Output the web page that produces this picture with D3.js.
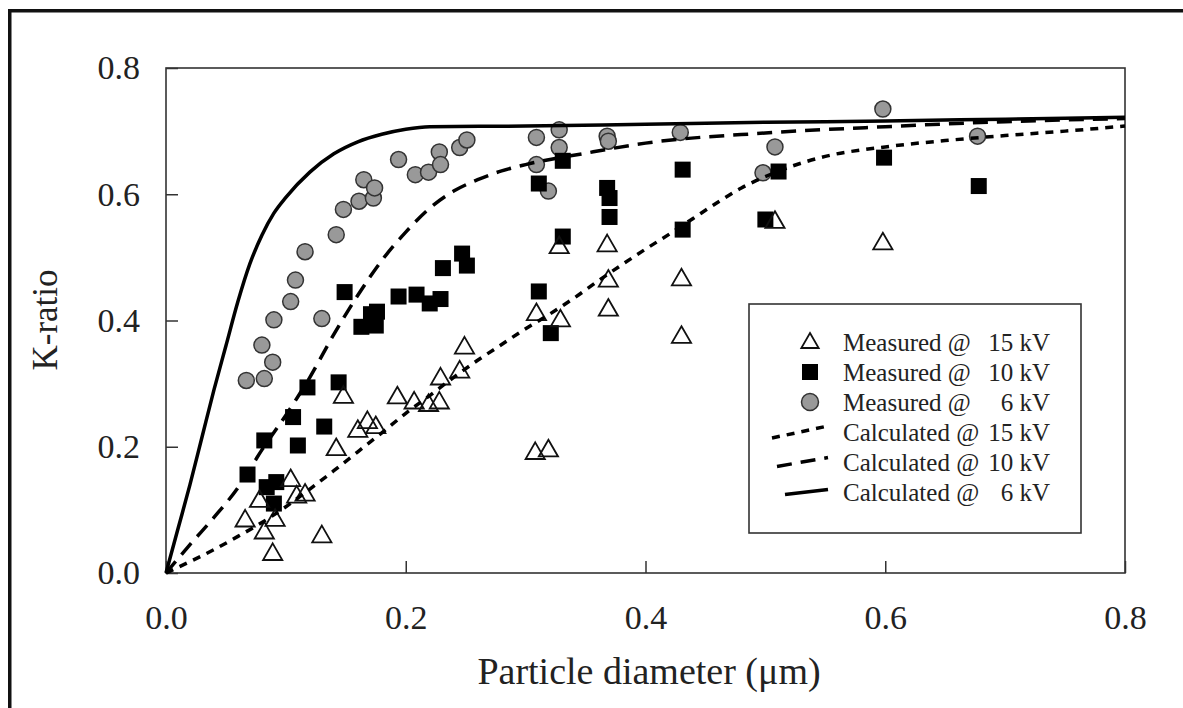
<!DOCTYPE html>
<html>
<head>
<meta charset="utf-8">
<script src="https://cdn.jsdelivr.net/npm/d3@7"></script>
<style>
body { margin: 0; background: #fff; }
svg text { font-family: "Liberation Serif", "DejaVu Serif", "Times New Roman", Times, serif !important; fill: #222; }
</style>
</head>
<body>
<script>
// measured points [diameter um, k-ratio]
const measured15 = [[0.066,0.084],[0.078,0.115],[0.082,0.065],[0.089,0.031],[0.091,0.085],[0.104,0.148],
    [0.109,0.122],[0.116,0.125],[0.130,0.059],[0.142,0.197],[0.148,0.28],[0.160,0.226],[0.168,0.240],
    [0.175,0.232],[0.193,0.279],[0.207,0.271],[0.219,0.267],[0.228,0.271],[0.229,0.309],[0.245,0.32],
    [0.249,0.358],[0.308,0.191],[0.319,0.195],[0.309,0.411],[0.329,0.401],[0.328,0.517],[0.368,0.52],
    [0.369,0.464],[0.369,0.418],[0.430,0.466],[0.430,0.375],[0.508,0.557],[0.598,0.523]];
const measured10 = [[0.068,0.156],[0.082,0.21],[0.084,0.136],[0.092,0.144],[0.090,0.110],[0.106,0.247],
    [0.110,0.202],[0.118,0.294],[0.132,0.232],[0.144,0.302],[0.149,0.445],[0.163,0.39],[0.171,0.41],
    [0.176,0.414],[0.175,0.392],[0.194,0.438],[0.209,0.441],[0.220,0.427],[0.229,0.434],[0.231,0.483],
    [0.247,0.506],[0.251,0.487],[0.311,0.617],[0.311,0.446],[0.321,0.38],[0.331,0.653],[0.331,0.533],
    [0.368,0.61],[0.370,0.594],[0.370,0.564],[0.431,0.639],[0.431,0.544],[0.5,0.56],[0.511,0.636],
    [0.599,0.658],[0.678,0.613]];
const measured6 = [[0.067,0.305],[0.082,0.308],[0.089,0.334],[0.080,0.361],[0.090,0.401],[0.104,0.43],
    [0.108,0.464],[0.116,0.509],[0.130,0.403],[0.142,0.536],[0.148,0.576],[0.161,0.589],[0.165,0.623],
    [0.173,0.594],[0.174,0.61],[0.194,0.655],[0.208,0.631],[0.219,0.635],[0.228,0.667],[0.229,0.647],
    [0.245,0.674],[0.251,0.686],[0.309,0.69],[0.309,0.647],[0.319,0.605],[0.328,0.702],[0.328,0.674],
    [0.368,0.692],[0.369,0.684],[0.429,0.698],[0.498,0.634],[0.508,0.675],[0.598,0.735],[0.677,0.692]];

// calculated curves
const calc15 = [[0,0],[0.02,0.018],[0.04,0.037],[0.06,0.058],[0.08,0.08],[0.1,0.105],[0.12,0.133],
    [0.14,0.162],[0.16,0.192],[0.18,0.222],[0.2,0.253],[0.22,0.281],[0.24,0.31],[0.26,0.337],[0.28,0.362],
    [0.3,0.387],[0.32,0.41],[0.34,0.435],[0.36,0.462],[0.38,0.488],[0.4,0.513],[0.42,0.537],[0.44,0.562],
    [0.46,0.587],[0.48,0.61],[0.5,0.628],[0.52,0.643],[0.55,0.66],[0.6,0.675],[0.65,0.685],[0.7,0.693],
    [0.75,0.7],[0.8,0.708]];
const calc10 = [[0,0],[0.02,0.045],[0.04,0.088],[0.06,0.135],[0.08,0.195],[0.1,0.25],[0.12,0.31],
    [0.14,0.378],[0.16,0.44],[0.18,0.495],[0.2,0.54],[0.22,0.578],[0.24,0.605],[0.26,0.623],[0.28,0.637],
    [0.3,0.647],[0.35,0.665],[0.4,0.681],[0.5,0.697],[0.6,0.707],[0.7,0.715],[0.8,0.72]];
const calc6 = [[0,0],[0.01,0.07],[0.02,0.14],[0.03,0.215],[0.04,0.29],[0.05,0.36],[0.06,0.43],
    [0.07,0.49],[0.08,0.535],[0.09,0.57],[0.1,0.595],[0.12,0.635],[0.14,0.664],[0.16,0.683],[0.18,0.695],
    [0.2,0.703],[0.22,0.707],[0.3,0.708],[0.4,0.711],[0.5,0.714],[0.6,0.716],[0.7,0.719],[0.8,0.722]];

const xticks = [0, 0.2, 0.4, 0.6, 0.8];
const yticks = [0, 0.2, 0.4, 0.6, 0.8];
const legendNames = ['Measured @', 'Measured @', 'Measured @', 'Calculated @', 'Calculated @', 'Calculated @'];
const legendVolts = ['15 kV', '10 kV', '6 kV', '15 kV', '10 kV', '6 kV'];

const margin = { top: 68, left: 166, right: 58, bottom: 135 };
const W = 1183, H = 708;
const width = W - margin.left - margin.right;
const height = H - margin.top - margin.bottom;

const svg = d3.select('body').append('svg')
    .attr('width', W)
    .attr('height', H);

// outer frame (top and left edges)
svg.append('rect').attr('x', 8).attr('y', 9).attr('width', W - 8).attr('height', 3.5).attr('fill', '#111');
svg.append('rect').attr('x', 8).attr('y', 9).attr('width', 3.5).attr('height', H - 9).attr('fill', '#111');

const g = svg.append('g').attr('transform', `translate(${margin.left},${margin.top})`);

const x = d3.scaleLinear().domain([0, 0.8]).range([0, width]);
const y = d3.scaleLinear().domain([0, 0.8]).range([height, 0]);

const fmt = d3.format('.1f');

const gx = g.append('g').attr('transform', `translate(0,${height})`)
    .call(d3.axisBottom(x).tickValues(xticks).tickSize(-12).tickPadding(32).tickFormat(fmt));
const gy = g.append('g')
    .call(d3.axisLeft(y).tickValues(yticks).tickSize(-12).tickPadding(26).tickFormat(fmt));
[gx, gy].forEach(a => {
    a.attr('font-family', null);
    a.select('.domain').remove();
    a.selectAll('line').attr('stroke', '#333').attr('stroke-width', 1.5);
    a.selectAll('text').attr('font-size', 34).attr('fill', '#222');
});

g.append('rect').attr('width', width).attr('height', height)
    .attr('fill', 'none').attr('stroke', '#333').attr('stroke-width', 1.6);

// markers
const tri = d3.symbol().type(d3.symbolTriangle).size(160);

g.append('g').selectAll('circle').data(measured6).join('circle')
    .attr('cx', d => x(d[0])).attr('cy', d => y(d[1])).attr('r', 8)
    .attr('fill', '#999').attr('stroke', '#333').attr('stroke-width', 1.5);

g.append('g').selectAll('rect').data(measured10).join('rect')
    .attr('x', d => x(d[0]) - 8).attr('y', d => y(d[1]) - 8)
    .attr('width', 16).attr('height', 16).attr('fill', '#000');

g.append('g').selectAll('path').data(measured15).join('path')
    .attr('d', tri)
    .attr('transform', d => `translate(${x(d[0])},${y(d[1]) + 1})`)
    .attr('fill', 'none').attr('stroke', '#111').attr('stroke-width', 1.8);

// calculated curves
const line = d3.line().x(d => x(d[0])).y(d => y(d[1])).curve(d3.curveMonotoneX);
const curves = [
    { data: calc15, dash: '8,7' },
    { data: calc10, dash: '15,9' },
    { data: calc6, dash: null }
];
curves.forEach(c => {
    g.append('path').datum(c.data).attr('d', line)
        .attr('fill', 'none').attr('stroke', '#000').attr('stroke-width', 3.5)
        .attr('stroke-dasharray', c.dash);
});

// legend
const lg = svg.append('g');
lg.append('rect').attr('x', 749).attr('y', 304).attr('width', 332).attr('height', 229)
    .attr('fill', '#fff').attr('stroke', '#333').attr('stroke-width', 1.6);
const rowY = i => 342 + i * 30;
legendNames.forEach((name, i) => {
    lg.append('text').attr('x', 843).attr('y', rowY(i)).attr('dy', '0.35em')
        .attr('font-size', 25).text(name);
    lg.append('text').attr('x', 1050).attr('y', rowY(i)).attr('dy', '0.35em')
        .attr('text-anchor', 'end').attr('font-size', 25).text(legendVolts[i]);
});
lg.append('path').attr('d', d3.symbol().type(d3.symbolTriangle).size(130)())
    .attr('transform', `translate(810,${rowY(0) + 1})`)
    .attr('fill', 'none').attr('stroke', '#111').attr('stroke-width', 1.8);
lg.append('rect').attr('x', 802).attr('y', rowY(1) - 8).attr('width', 16).attr('height', 16).attr('fill', '#000');
lg.append('circle').attr('cx', 810).attr('cy', rowY(2)).attr('r', 8.5)
    .attr('fill', '#999').attr('stroke', '#333').attr('stroke-width', 1.5);
[[772, 12, '8,7'], [777, 9, '15,9'], [785, 5, null]].forEach((s, k) => {
    const yy = rowY(3 + k);
    lg.append('line').attr('x1', s[0]).attr('y1', yy + s[1] / 2).attr('x2', 828).attr('y2', yy - s[1] / 2)
        .attr('stroke', '#000').attr('stroke-width', 3.5).attr('stroke-dasharray', s[2]);
});

// axis titles
svg.append('text').attr('transform', 'translate(57,320) rotate(-90)')
    .attr('text-anchor', 'middle').attr('font-size', 35).text('K-ratio');
svg.append('text').attr('x', 649).attr('y', 684)
    .attr('text-anchor', 'middle').attr('font-size', 38).text('Particle diameter (μm)');
</script>
</body>
</html>
